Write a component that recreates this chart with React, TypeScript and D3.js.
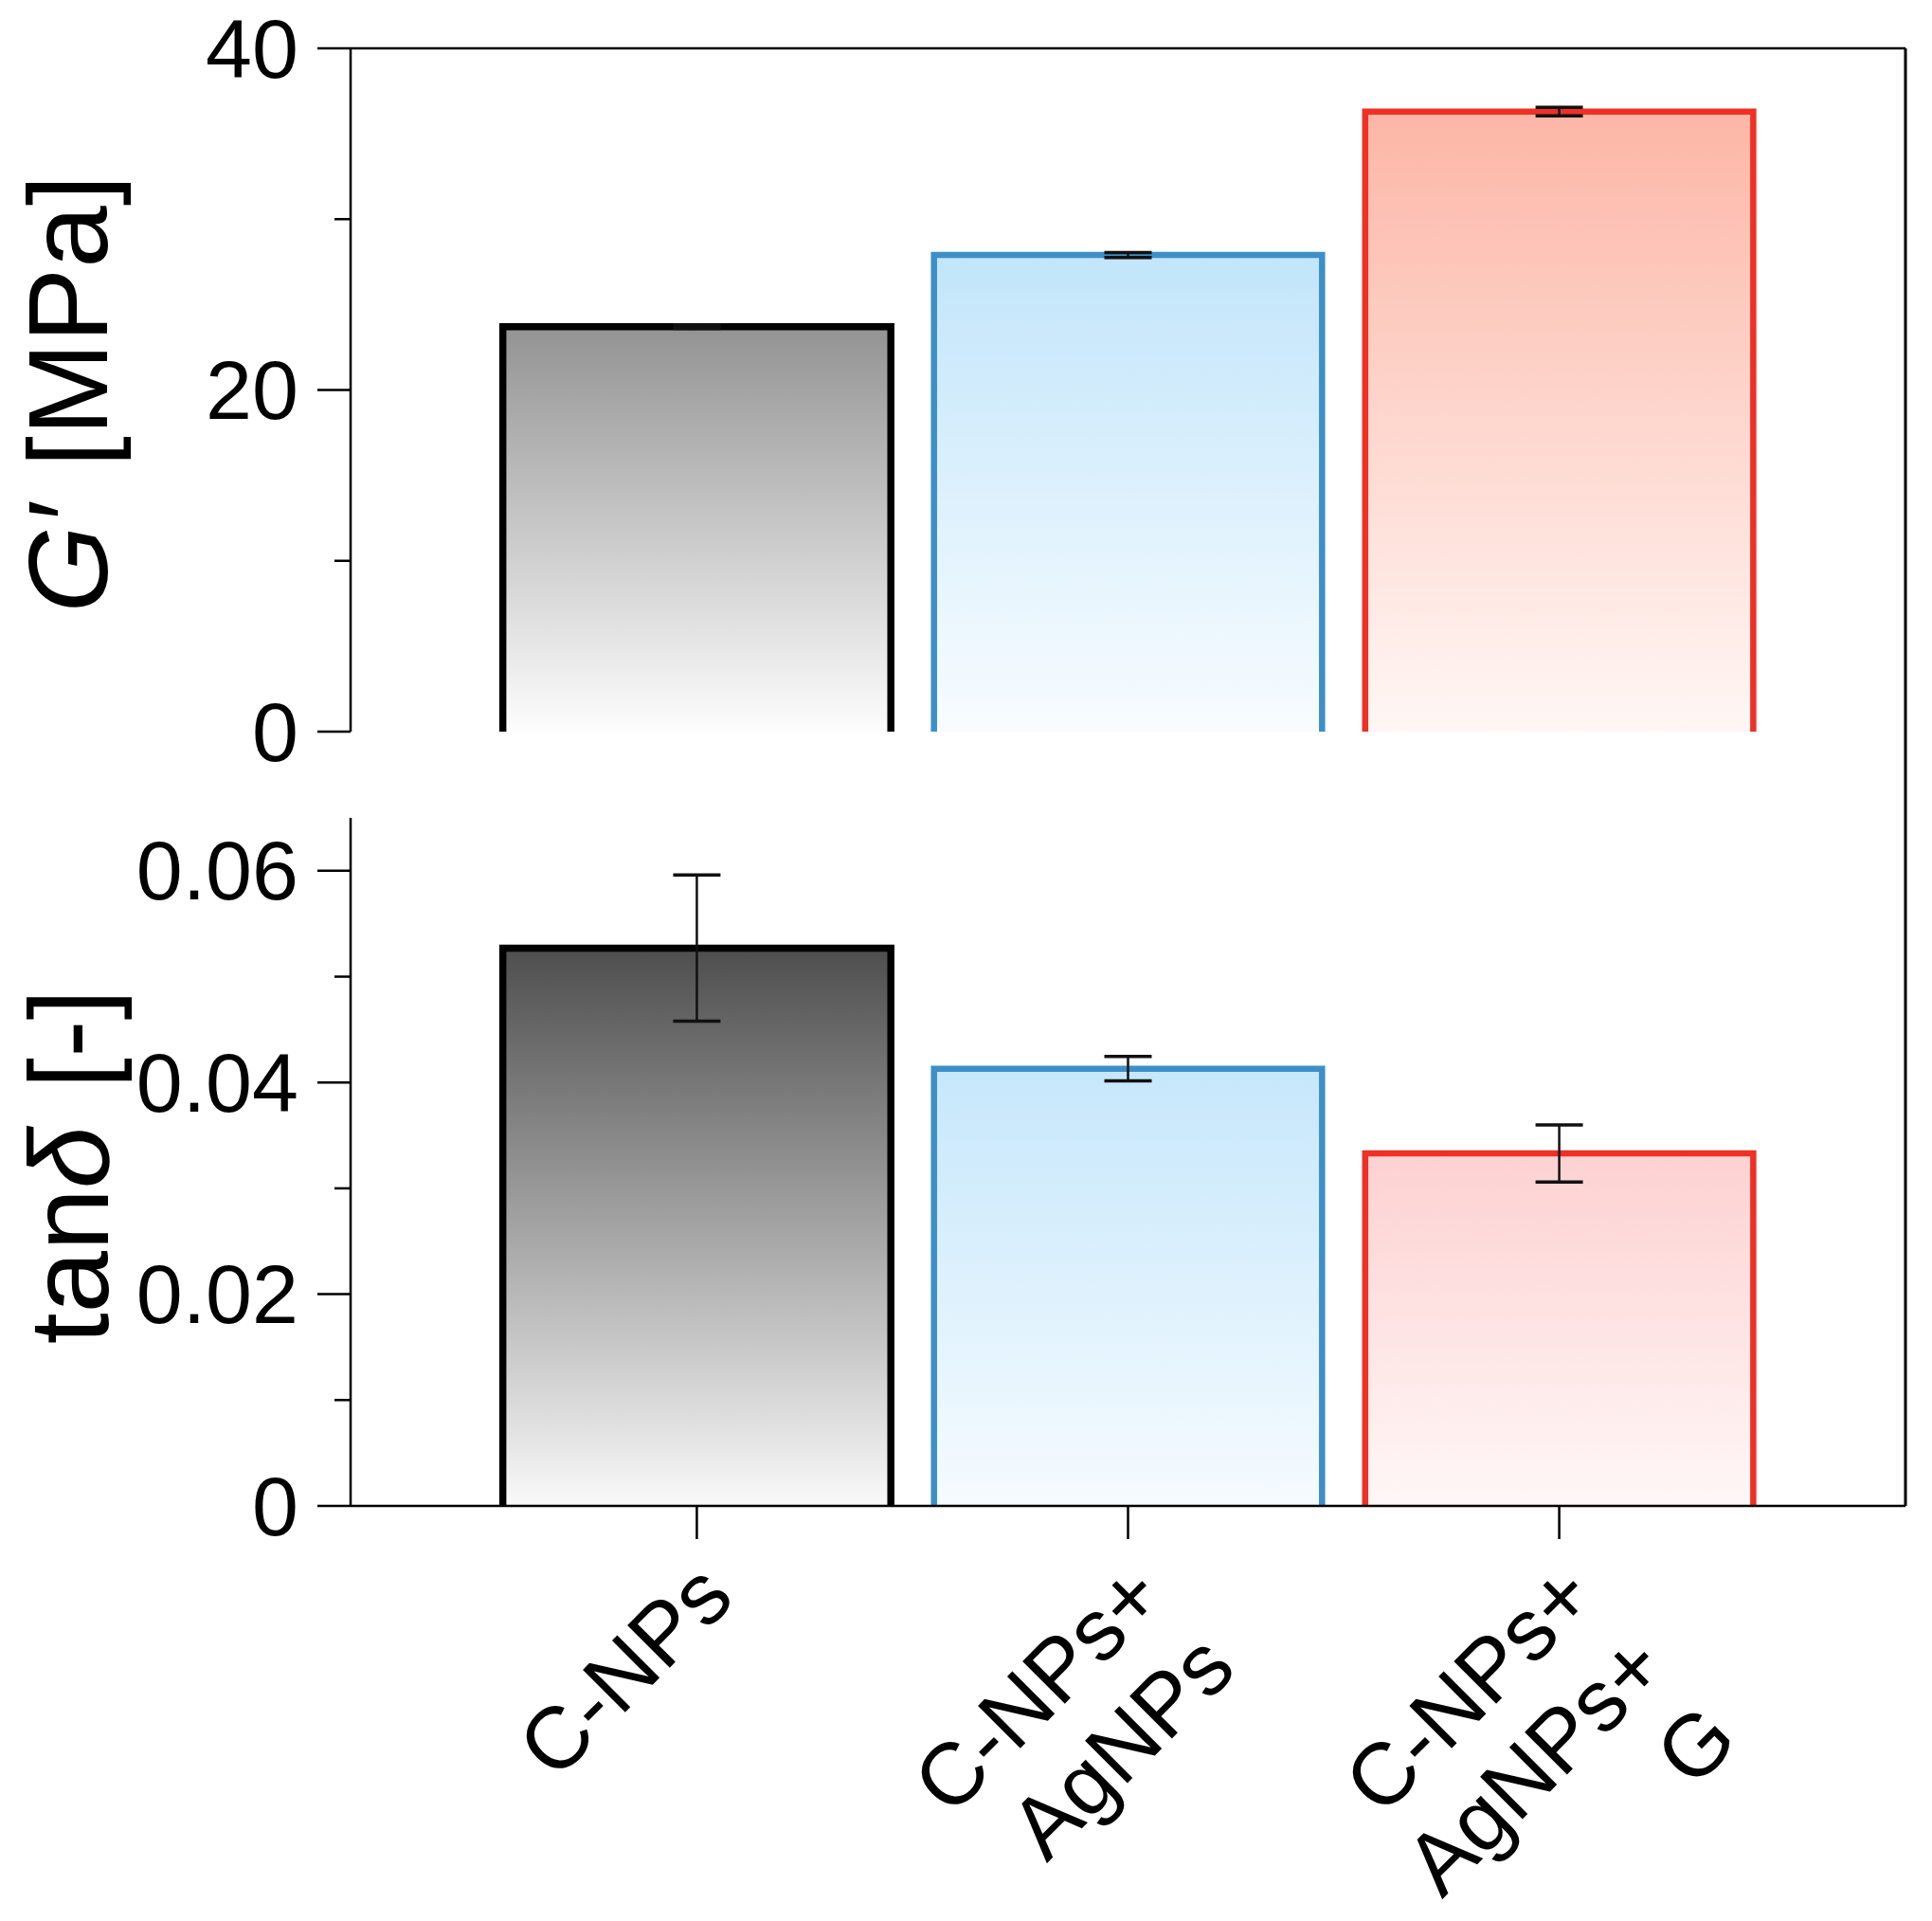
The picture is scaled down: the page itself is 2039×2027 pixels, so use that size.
import React from "react";
import * as d3 from "d3";

// Samples on the x axis (label lines)
const categories = ["C-NPs", "C-NPs+AgNPs", "C-NPs+AgNPs+G"];
const categoryLines = [["C-NPs"], ["C-NPs+", "AgNPs"], ["C-NPs+", "AgNPs+", "G"]];

// Storage modulus G' [MPa]
const gPrime = [23.7, 27.9, 36.3];
const gPrimeErr = [0.1, 0.15, 0.25];

// Loss factor tan delta [-]
const tanDelta = [0.0527, 0.0413, 0.0333];
const tanDeltaErr = [0.0069, 0.00115, 0.0027];

const gMajorTicks = [0, 20, 40];
const gMinorTicks = [10, 30];
const tMajorTicks = [0, 0.02, 0.04, 0.06];
const tMinorTicks = [0.01, 0.03, 0.05];

// bar colours
const strokeColors = ["#000000", "#3d8fc7", "#ee3124"];
const topFillTop = ["#939393", "#c2e5fa", "#fcb6a6"];
const topFillBottom = ["#fdfdfd", "#f8fcff", "#fff7f5"];
const botFillTop = ["#4e4e4e", "#c6e7fb", "#fdd1d1"];
const botFillBottom = ["#f9f9f9", "#f6fbff", "#fff7f7"];

const W = 2039;
const H = 2027;
const left = 370;
const right = 2011;
const topY0 = 772;
const topY1 = 51;
const botY0 = 1589;
const botY1 = 863;

const FONT = "'Liberation Sans', Arial, Helvetica, sans-serif";

const x = d3
  .scaleBand<string>()
  .domain(categories)
  .range([left, right])
  .paddingInner(0.1)
  .paddingOuter(0.353);

const yTop = d3.scaleLinear().domain([0, 40]).range([topY0, topY1]);
const yBot = d3.scaleLinear().domain([0, 0.065]).range([botY0, botY1]);

const fmtTop = d3.format("d");
const fmtBot = (v: number) => (v === 0 ? "0" : d3.format(".2f")(v));

type PanelProps = {
  id: string;
  y: d3.ScaleLinear<number, number>;
  values: number[];
  errs: number[];
  fillTop: string[];
  fillBottom: string[];
  major: number[];
  minor: number[];
  fmt: (v: number) => string;
};

const Panel: React.FC<PanelProps> = ({ id, y, values, errs, fillTop, fillBottom, major, minor, fmt }) => {
  const [y0, y1] = y.range();
  const bw = x.bandwidth();
  const line = d3.line();
  return (
    <g>
      <defs>
        {categories.map((c, i) => (
          <linearGradient key={c} id={`${id}-grad-${i}`} x1="0" y1="0" x2="0" y2="1">
            <stop offset="0" stopColor={fillTop[i]} />
            <stop offset="1" stopColor={fillBottom[i]} />
          </linearGradient>
        ))}
      </defs>
      {categories.map((c, i) => {
        const bx = x(c) || 0;
        const by = y(values[i]);
        const outline = line([
          [bx, y0],
          [bx, by],
          [bx + bw, by],
          [bx + bw, y0],
        ]);
        return (
          <g key={c}>
            <rect x={bx} y={by} width={bw} height={y0 - by} fill={`url(#${id}-grad-${i})`} />
            <path
              d={outline || ""}
              fill="none"
              stroke={strokeColors[i]}
              strokeWidth={i === 0 ? 7.5 : 6.5}
              strokeLinejoin="miter"
            />
          </g>
        );
      })}
      {categories.map((c, i) => {
        const cx = (x(c) || 0) + bw / 2;
        const hi = y(values[i] + errs[i]);
        const lo = y(values[i] - errs[i]);
        return (
          <g key={c} stroke="#111" fill="none">
            <line x1={cx} x2={cx} y1={hi} y2={lo} strokeWidth={2.5} />
            <line x1={cx - 25} x2={cx + 25} y1={hi} y2={hi} strokeWidth={3.5} />
            <line x1={cx - 25} x2={cx + 25} y1={lo} y2={lo} strokeWidth={3.5} />
          </g>
        );
      })}
      {/* left axis */}
      <line x1={left} x2={left} y1={y0} y2={y1} stroke="#000" strokeWidth={2.5} />
      {major.map((t) => (
        <g key={`M${t}`}>
          <line x1={left - 35} x2={left} y1={y(t)} y2={y(t)} stroke="#000" strokeWidth={2.5} />
          <text
            x={left - 55}
            y={y(t)}
            textAnchor="end"
            dominantBaseline="central"
            fontFamily={FONT}
            fontSize={88}
            fill="#000"
          >
            {fmt(t)}
          </text>
        </g>
      ))}
      {minor.map((t) => (
        <line key={`m${t}`} x1={left - 17} x2={left} y1={y(t)} y2={y(t)} stroke="#000" strokeWidth={2.5} />
      ))}
    </g>
  );
};

export default function App() {
  return (
    <svg
      width={W}
      height={H}
      viewBox={`0 0 ${W} ${H}`}
      style={{ position: "absolute", left: 0, top: 0, background: "#fff" }}
    >
      <rect x={0} y={0} width={W} height={H} fill="#fff" />
      <Panel
        id="top"
        y={yTop}
        values={gPrime}
        errs={gPrimeErr}
        fillTop={topFillTop}
        fillBottom={topFillBottom}
        major={gMajorTicks}
        minor={gMinorTicks}
        fmt={fmtTop}
      />
      <Panel
        id="bot"
        y={yBot}
        values={tanDelta}
        errs={tanDeltaErr}
        fillTop={botFillTop}
        fillBottom={botFillBottom}
        major={tMajorTicks}
        minor={tMinorTicks}
        fmt={fmtBot}
      />

      {/* frame: top, right and bottom lines */}
      <line x1={left} x2={right} y1={topY1} y2={topY1} stroke="#000" strokeWidth={2.5} />
      <line x1={right} x2={right} y1={topY1} y2={botY0} stroke="#000" strokeWidth={3} />
      <line x1={left} x2={right} y1={botY0} y2={botY0} stroke="#000" strokeWidth={2.5} />

      {/* x ticks and labels */}
      {categories.map((c, i) => {
        const cx = (x(c) || 0) + x.bandwidth() / 2;
        return (
          <g key={c}>
            <line x1={cx} x2={cx} y1={botY0} y2={botY0 + 35} stroke="#000" strokeWidth={2.5} />
            <text
              transform={`translate(${cx + 42},${botY0 + 100}) rotate(-45)`}
              textAnchor="end"
              fontFamily={FONT}
              fontSize={92}
              fill="#000"
            >
              {categoryLines[i].map((ln, k) => (
                <tspan key={k} x={0} dy={k === 0 ? 0 : "1.15em"}>
                  {ln}
                </tspan>
              ))}
            </text>
          </g>
        );
      })}

      {/* y axis titles */}
      <text
        transform={`translate(113,${(topY0 + topY1) / 2 + 4}) rotate(-90)`}
        textAnchor="middle"
        fontFamily={FONT}
        fontSize={118}
        fill="#000"
      >
        <tspan fontStyle="italic">G′</tspan>
        <tspan dx={40}>[MPa]</tspan>
      </text>
      <text
        transform={`translate(114,${(botY0 + botY1) / 2 + 5}) rotate(-90)`}
        textAnchor="middle"
        fontFamily={FONT}
        fontSize={118}
        fill="#000"
      >
        <tspan>tan</tspan>
        <tspan fontStyle="italic">δ</tspan>
        <tspan dx={40}>[-]</tspan>
      </text>
    </svg>
  );
}
